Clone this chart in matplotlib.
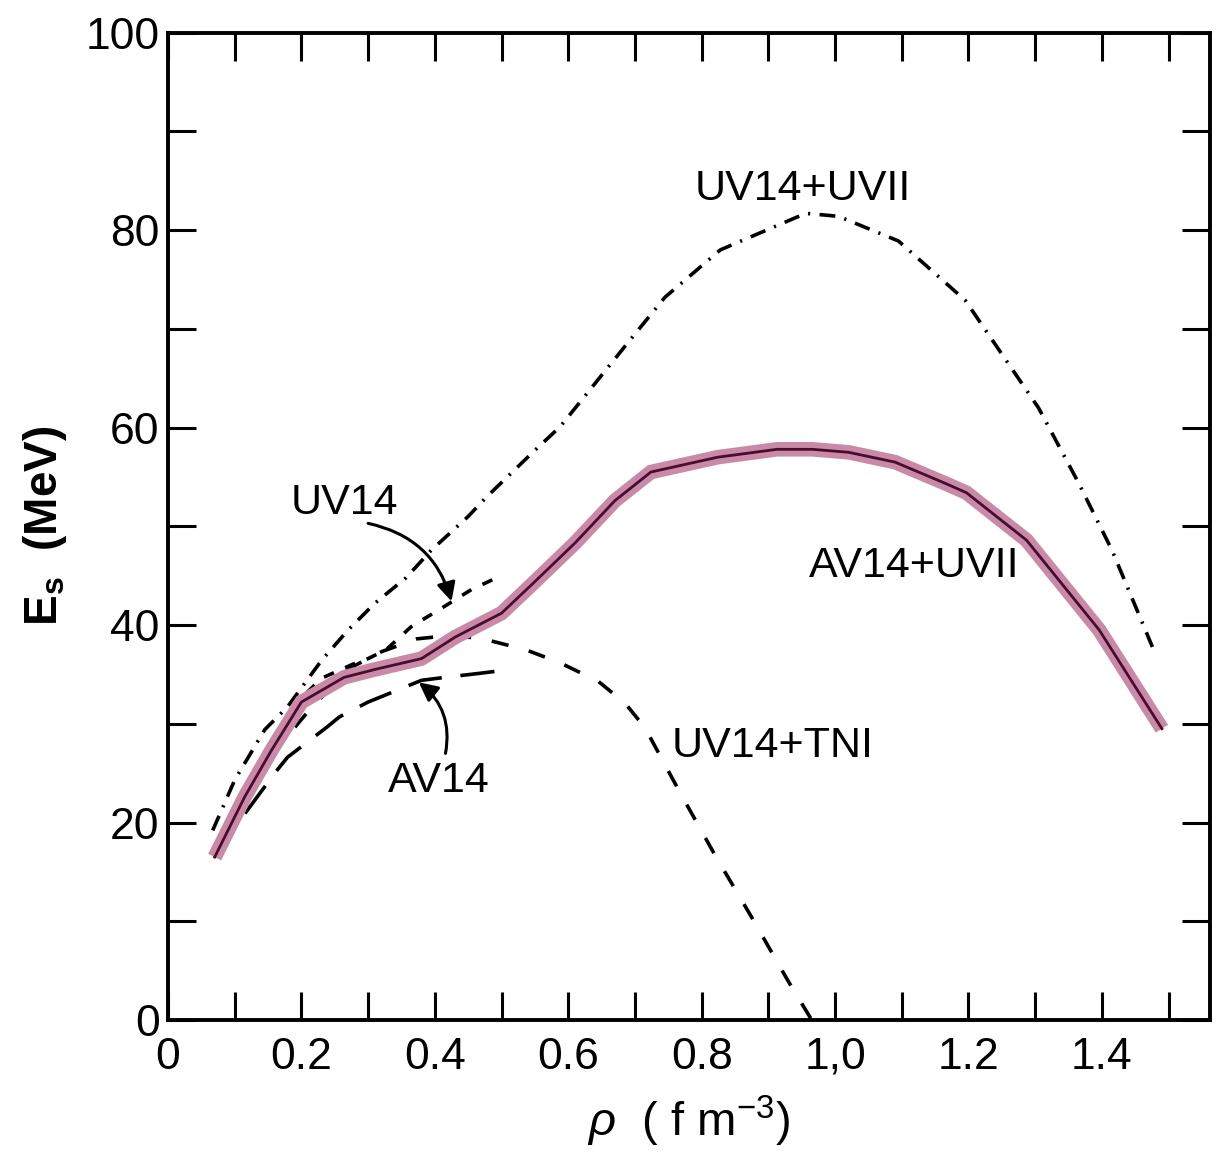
"""Symmetry energy E_s versus density for several nuclear Hamiltonians."""
import matplotlib
matplotlib.use("Agg")
import matplotlib.pyplot as plt
from matplotlib.ticker import MultipleLocator, FixedLocator, FixedFormatter

# density (fm^-3) and symmetry energy (MeV) per Hamiltonian
rho_uvii = [0.067, 0.10, 0.145, 0.179, 0.23, 0.27, 0.31, 0.357, 0.395, 0.45, 0.478,
            0.55, 0.588, 0.693, 0.745, 0.828, 0.956, 1.005, 1.095, 1.195, 1.305,
            1.365, 1.415, 1.48]
es_uvii = [19.2, 24.3, 29.4, 31.7, 36.4, 39.5, 42.2, 44.8, 47.6, 51.0, 53.0,
           57.7, 60.1, 68.9, 73.2, 78.0, 81.7, 81.4, 78.9, 72.9, 62.0,
           54.4, 47.6, 37.1]

rho_av14_uvii = [0.07, 0.115, 0.155, 0.20, 0.264, 0.31, 0.38, 0.431, 0.50, 0.55,
                 0.61, 0.67, 0.724, 0.824, 0.913, 0.966, 1.02, 1.09, 1.167, 1.197,
                 1.287, 1.396, 1.49]
es_av14_uvii = [16.5, 22.6, 27.3, 32.2, 34.7, 35.5, 36.6, 38.8, 41.2, 44.4,
                48.3, 52.6, 55.5, 57.0, 57.8, 57.8, 57.5, 56.5, 54.3, 53.4,
                48.6, 39.5, 29.5]

rho_tni = [0.07, 0.12, 0.16, 0.207, 0.269, 0.32, 0.373, 0.43, 0.484, 0.536, 0.587,
           0.645, 0.685, 0.715, 0.767, 0.82, 0.875, 0.93, 0.965]
es_tni = [16.5, 22.8, 27.2, 31.0, 35.5, 37.3, 38.6, 39.0, 38.4, 37.5, 36.2,
          34.3, 32.1, 29.6, 23.1, 16.7, 10.4, 3.9, 0.0]

rho_uv14 = [0.07, 0.12, 0.16, 0.20, 0.23, 0.276, 0.30, 0.327, 0.364, 0.388, 0.41,
            0.455, 0.49]
es_uv14 = [17.0, 23.8, 28.6, 32.6, 34.6, 36.0, 36.6, 37.5, 39.8, 40.8, 41.7,
           43.6, 44.7]

rho_av14 = [0.07, 0.10, 0.16, 0.179, 0.239, 0.257, 0.30, 0.38, 0.415, 0.466, 0.49]
es_av14 = [16.5, 19.5, 25.0, 26.6, 29.7, 30.7, 32.2, 34.4, 34.7, 35.1, 35.3]

x_ticks = [0, 0.2, 0.4, 0.6, 0.8, 1.0, 1.2, 1.4]
x_tick_labels = ["0", "0.2", "0.4", "0.6", "0.8", "1,0", "1.2", "1.4"]
y_ticks = [0, 20, 40, 60, 80, 100]

PINK = "#c98aa8"
MAROON = "#4a0c2c"
FONT = "Liberation Sans"

plt.rcParams["font.family"] = [FONT, "DejaVu Sans"]
plt.rcParams["mathtext.fontset"] = "custom"
plt.rcParams["mathtext.rm"] = FONT
plt.rcParams["mathtext.it"] = FONT + ":italic"
plt.rcParams["mathtext.bf"] = FONT + ":bold"

fig = plt.figure(figsize=(12.28, 11.67), dpi=100)
ax = fig.add_axes([0.1368, 0.126, 0.8485, 0.846])

lw = 2.6
ax.plot(rho_uvii, es_uvii, color="black", lw=lw, ls=(0, (4.4, 2.6, 0.6, 2.6)))
ax.plot(rho_tni, es_tni, color="black", lw=lw, ls=(0, (4.8, 5.8)))
ax.plot(rho_uv14, es_uv14, color="black", lw=lw, ls=(0, (3.0, 3.4)))
ax.plot(rho_av14, es_av14, color="black", lw=lw, ls=(0, (9.5, 5.2)))
# highlighted AV14+UVII: broad band with thin dark core
ax.plot(rho_av14_uvii, es_av14_uvii, color=PINK, lw=10.5, solid_joinstyle="miter",
        solid_capstyle="butt")
ax.plot(rho_av14_uvii, es_av14_uvii, color=MAROON, lw=2.0)

ax.set_xlim(0, 1.562)
ax.set_ylim(0, 100)

ax.xaxis.set_major_locator(FixedLocator(x_ticks))
ax.xaxis.set_major_formatter(FixedFormatter(x_tick_labels))
ax.xaxis.set_minor_locator(MultipleLocator(0.1))
ax.yaxis.set_major_locator(FixedLocator(y_ticks))
ax.yaxis.set_minor_locator(MultipleLocator(10))
ax.tick_params(which="both", direction="in", length=20, width=2.2,
               top=True, right=True)
ax.tick_params(axis="x", which="major", labelsize=32, pad=12)
ax.tick_params(axis="y", which="major", labelsize=32, pad=6)
for s in ax.spines.values():
    s.set_linewidth(2.8)

ax.set_xlabel(r"$\mathit{\rho}$  ( f m$^{-3}$)", fontsize=34, labelpad=12)
ax.set_ylabel(r"E$_{\mathbf{s}}$  (MeV)", fontsize=33, fontweight="bold",
              labelpad=12)

txt = dict(fontsize=31, color="black", ha="center", va="center")
ax.text(0.952, 84.2, "UV14+UVII", **txt)
ax.text(0.264, 52.4, "UV14", **txt)
ax.text(1.118, 46.0, "AV14+UVII", **txt)
ax.text(0.906, 27.7, "UV14+TNI", **txt)
ax.text(0.406, 24.2, "AV14", **txt)

arrow = dict(arrowstyle="-|>", color="black", lw=2.2, mutation_scale=28,
             shrinkA=0, shrinkB=0)
ax.annotate("", xy=(0.425, 42.4), xytext=(0.30, 50.3),
            arrowprops=dict(arrow, connectionstyle="arc3,rad=-0.3"))
ax.annotate("", xy=(0.376, 34.2), xytext=(0.416, 27.0),
            arrowprops=dict(arrow, connectionstyle="arc3,rad=0.3"))

fig.savefig("out.png", dpi=100)
